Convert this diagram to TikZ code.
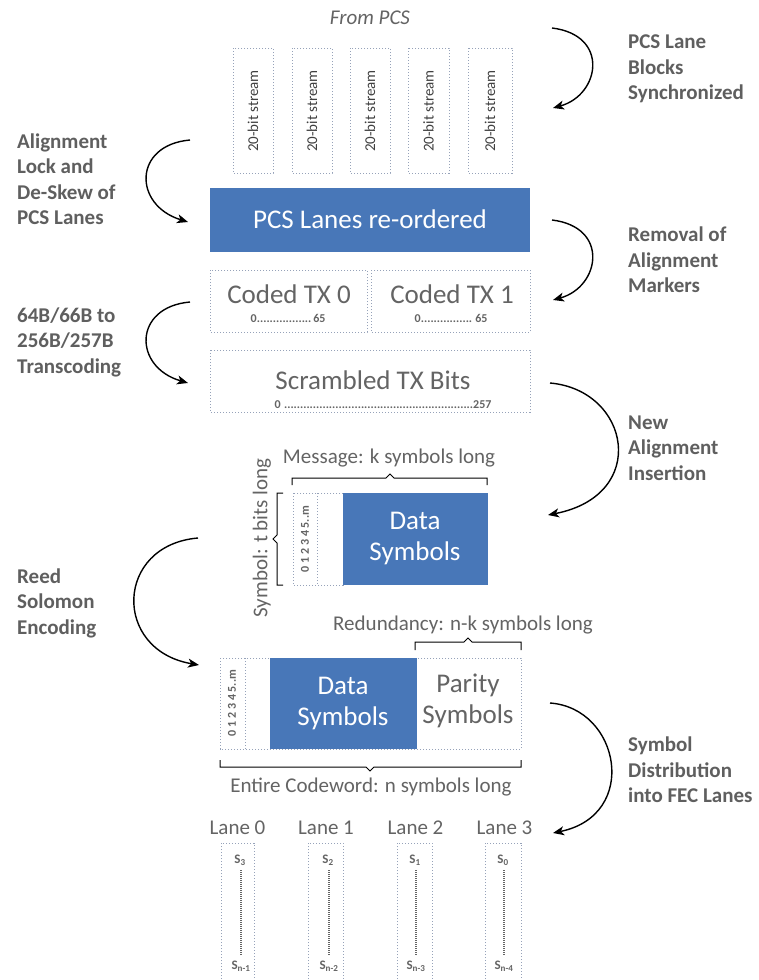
\documentclass[tikz,border=0pt]{standalone}
\usepackage{fontspec}
\setmainfont{Carlito}
\usetikzlibrary{arrows.meta}
\definecolor{myblue}{RGB}{72,119,184}
\definecolor{dotc}{RGB}{150,162,185}
\definecolor{labc}{RGB}{95,95,95}
\definecolor{txtc}{RGB}{100,100,100}
\newcommand\tightdots{\leaders\hbox{.}\hfill}
\newcommand\fsz[1]{\fontsize{#1}{#1}\selectfont}
\tikzset{
  dotbox/.style={draw=dotc, dash pattern=on 1.3pt off 1.7pt, line width=0.9pt},
  bluebox/.style={fill=myblue, draw=none},
  lbl/.style={font=\fontsize{21}{25.5}\selectfont\bfseries, text=labc, align=left, anchor=west, inner sep=0pt},
  curvearrow/.style={-{Stealth[length=11pt,width=9pt,inset=3pt]}, line width=1.4pt, black},
  bigtxt/.style={font=\fsz{27}, text=txtc, inner sep=0pt},
  whitetxt/.style={font=\fontsize{27}{31}\selectfont, text=white, align=center, inner sep=0pt},
  midtxt/.style={font=\fsz{21}, text=txtc, inner sep=0pt},
  smallnum/.style={font=\fsz{12}\bfseries, text=txtc, inner sep=0pt},
  streamtxt/.style={font=\fsz{15}, text=black!75, rotate=90, inner sep=0pt},
  brace/.style={line width=1pt, black},
  ldots/.style={draw=txtc, line width=1.6pt, dash pattern=on 1pt off 1pt},
  stxt/.style={font=\fsz{13}\bfseries, text=txtc, inner sep=0pt}
}
\begin{document}
\begin{tikzpicture}[x=1pt,y=-1pt]
\useasboundingbox[fill=white] (0,0) rectangle (758,980);

% From PCS
\node[font=\fsz{21}\itshape, text=txtc, inner sep=0pt] (from) at (370,18) {From PCS};

% 20-bit streams
\foreach \i/\xa/\xb in {1/233/273,2/292/332,3/350/390,4/408/449,5/468/512}{
  \draw[dotbox] (\xa,48) rectangle (\xb,173);
  \node[streamtxt] (s\i) at ({(\xa+\xb)/2},111) {20-bit stream};
}

% PCS Lanes re-ordered
\fill[myblue] (210,188) rectangle (530,252);
\node[whitetxt] (pcs) at (370,219) {PCS Lanes re-ordered};

% Coded TX
\draw[dotbox] (210,270) rectangle (367,332);
\draw[dotbox] (371,270) rectangle (530,332);
\node[bigtxt] (c0) at (289,294) {Coded TX 0};
\node[smallnum] (c0n) at (288,318) {\makebox[75pt]{0\tightdots65}};
\node[bigtxt] (c1) at (452,294) {Coded TX 1};
\node[smallnum] (c1n) at (451,318) {\makebox[73pt]{0\tightdots65}};

% Scrambled
\draw[dotbox] (210,350) rectangle (530,412);
\node[bigtxt] (scr) at (373,380) {Scrambled TX Bits};
\node[smallnum] (scrn) at (383,405) {\makebox[217pt]{0 \tightdots257}};

% Message
\node[midtxt] (msg) at (389,458) {Message: k symbols long};
\draw[brace] (292,485) -- (292,478) -- (386,478) -- (390,474) -- (394,478) -- (487,478) -- (487,485);
\draw[dotbox] (293,493) rectangle (343,585);
\draw[dotbox] (317,493) -- (317,585);
\node[smallnum, rotate=90] (bits1) at (305,539) {0 1 2 3 4 5..m};
\fill[myblue] (343,493) rectangle (488,585);
\node[whitetxt] (ds1) at (415,539) {Data\\Symbols};
\draw[brace] (283,493) -- (277,493) -- (277,535) -- (273,539) -- (277,543) -- (277,585) -- (283,585);
\node[midtxt, rotate=90] (symt) at (262,538) {Symbol: t bits long};

% Codeword
\node[midtxt] (red) at (463,625) {Redundancy: n-k symbols long};
\draw[brace] (415,650) -- (415,642) -- (464,642) -- (468,638) -- (472,642) -- (521,642) -- (521,650);
\draw[dotbox] (220,658) rectangle (521,749);
\draw[dotbox] (245,658) -- (245,749);
\node[smallnum, rotate=90] (bits2) at (232,703) {0 1 2 3 4 5..m};
\fill[myblue] (270,658) rectangle (417,749);
\node[whitetxt] (ds2) at (343,704) {Data\\Symbols};
\node[font=\fontsize{27}{31}\selectfont, text=txtc, align=center, inner sep=0pt] (par) at (468,701) {Parity\\Symbols};
\draw[brace] (220,760) -- (220,767) -- (366,767) -- (370,771) -- (374,767) -- (521,767) -- (521,760);
\node[midtxt] (ent) at (371,787) {Entire Codeword: n symbols long};

% Lanes
\foreach \i/\xa/\xb/\xc/\st/\sb in {0/221/254/240/3/n-1,1/308/343/328/2/n-2,2/397/432/415/1/n-3,3/485/521/503/0/n-4}{
  \node[midtxt] (lane\i) at ({(\xa+\xb)/2+\i*0.5},828) {Lane \i};
  \draw[dotbox] (\xa,985) -- (\xa,843) -- (\xb,843) -- (\xb,985);
  \node[stxt] (top\i) at (\xc,860) {S\textsubscript{\st}};
  \node[stxt] (bot\i) at (\xc+1,966) {S\textsubscript{\sb}};
  \draw[ldots] (\xc+1,870) -- (\xc+1,955);
}

% Labels right
\node[lbl] (l1) at (628,69) {PCS Lane\\Blocks\\Synchronized};
\node[lbl] (l2) at (628,260) {Removal of\\Alignment\\Markers};
\node[lbl] (l3) at (628,448) {New\\Alignment\\Insertion};
\node[lbl] (l4) at (628,770) {Symbol\\Distribution\\into FEC Lanes};
% Labels left
\node[lbl] (l5) at (17,179) {Alignment\\Lock and\\De-Skew of\\PCS Lanes};
\node[lbl] (l6) at (17,342) {64B/66B to\\256B/257B\\Transcoding};
\node[lbl] (l7) at (17,603) {Reed\\Solomon\\Encoding};

% arrow coordinates
\coordinate (a1s) at (552,28);  \coordinate (a1e) at (553,108);
\coordinate (a2s) at (552,220); \coordinate (a2e) at (553,300);
\coordinate (a3s) at (550,383); \coordinate (a3e) at (548,515);
\coordinate (a4s) at (550,703); \coordinate (a4e) at (553,833);
\coordinate (b1s) at (190,140); \coordinate (b1e) at (188,222);
\coordinate (b2s) at (190,302); \coordinate (b2e) at (188,383);
\coordinate (b3s) at (198,538); \coordinate (b3e) at (199,665);

\draw[curvearrow] (a1s) .. controls (610,35) and (600,95) .. (a1e);
\draw[curvearrow] (a2s) .. controls (610,227) and (600,287) .. (a2e);
\draw[curvearrow] (a3s) .. controls (630,390) and (650,495) .. (a3e);
\draw[curvearrow] (a4s) .. controls (620,708) and (640,815) .. (a4e);
\draw[curvearrow] (b1s) .. controls (133,145) and (133,205) .. (b1e);
\draw[curvearrow] (b2s) .. controls (133,307) and (133,367) .. (b2e);
\draw[curvearrow] (b3s) .. controls (115,545) and (112,650) .. (b3e);
\end{tikzpicture}
\end{document}
